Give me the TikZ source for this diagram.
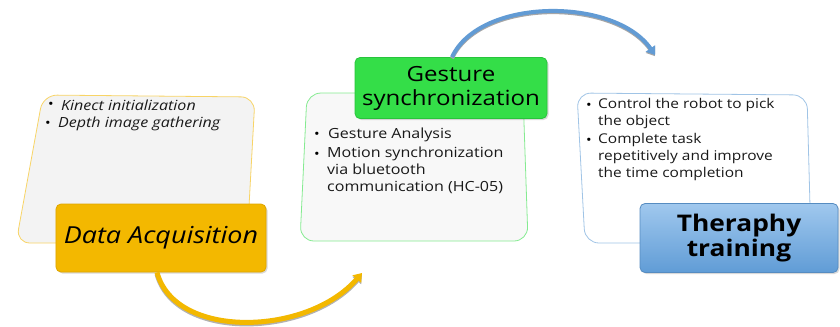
\documentclass[tikz,border=0pt]{standalone}
\usepackage{fontspec}
\setmainfont[FakeStretch=1.15]{Open Sans}
\usetikzlibrary{arrows.meta,shadows}
\definecolor{acqgold}{RGB}{243,184,0}
\definecolor{acqedge}{RGB}{222,165,0}
\definecolor{gestgreen}{RGB}{52,222,72}
\definecolor{gestedge}{RGB}{40,196,60}
\definecolor{therblue}{RGB}{96,156,214}
\definecolor{therlight}{RGB}{160,200,238}
\definecolor{panelgrey}{RGB}{243,243,243}
\definecolor{arcblue}{RGB}{98,155,212}
\begin{document}
\begin{tikzpicture}[x=1bp, y=-1bp,
  panel/.style={rounded corners=14bp, line width=0.8bp},
  head node/.style={draw, rounded corners=5bp, line width=0.8bp, inner sep=0pt, align=center,
    drop shadow={opacity=0.3, shadow xshift=1.5bp, shadow yshift=-1.5bp}},
  dot node/.style={anchor=west, inner sep=0pt, font=\fontsize{13}{16}\selectfont},
  item node/.style={inner sep=0pt, align=left, text=black!90},
  flow arrow/.style={line width=#1, -{Triangle[length=8bp, width=11bp]}}]
\useasboundingbox (0,0) rectangle (840,326);

% background panels
\draw[panel, fill=panelgrey, draw=acqgold!60] (43,95) -- (255,97) -- (247,243) -- (16,243) -- cycle;
\draw[panel, fill=panelgrey!60, draw=gestgreen!60] (307,93) -- (523,93) -- (528,241) -- (300,241) -- cycle;
\draw[panel, fill=white, draw=therblue!60] (577,93) -- (807,95) -- (811,243) -- (585,243) -- cycle;

% bullet items
\begin{scope}[every node/.style={font=\fontsize{14}{17}\selectfont}]
\node [dot node](b1) at (48,105) {\textbullet};
\node [item node, anchor=west](t1) at (61,105) {\itshape Kinect initialization};
\node [dot node](b2) at (45,124) {\textbullet};
\node [item node, anchor=west](t2) at (58,124) {\itshape Depth image gathering};
\end{scope}

\begin{scope}[every node/.style={font=\fontsize{14}{17}\selectfont}]
\node [dot node](b3) at (314,135) {\textbullet};
\node [item node, anchor=west](t3) at (328,135) {Gesture Analysis};
\node [dot node](b4) at (314,155) {\textbullet};
\node [item node, anchor=north west](t4) at (327,147) {Motion synchronization\\via bluetooth\\communication (HC-05)};
\end{scope}

\begin{scope}[every node/.style={font=\fontsize{13.5}{17}\selectfont}]
\node [dot node](b5) at (586,106) {\textbullet};
\node [item node, anchor=north west](t5) at (598,98) {Control the robot to pick\\the object};
\node [dot node](b6) at (586,141) {\textbullet};
\node [item node, anchor=north west](t6) at (598,133) {Complete task\\repetitively and improve\\the time completion};
\end{scope}

% stage headers
\node [head node, fill=acqgold, draw=acqedge, minimum width=210bp, minimum height=68bp,
  font=\itshape\fontsize{23.5}{28}\selectfont](acq) at (161,238) {Data Acquisition};
\node [head node, fill=gestgreen, draw=gestedge, minimum width=192bp, minimum height=61bp,
  font=\fontsize{21}{24}\selectfont](gest) at (451,88) {Gesture\\synchronization};
\node [head node, top color=therlight, bottom color=therblue, draw=therblue!90!black, minimum width=198bp, minimum height=69bp,
  font=\bfseries\fontsize{23}{26}\selectfont](ther) at (739,238) {Theraphy\\training};

% connectors
\coordinate (acqend) at (362,273);
\coordinate (gestend) at (655,55);
\draw [flow arrow=5bp, acqgold, preaction={draw=black!30, line width=5bp, transform canvas={yshift=-1.5bp}}]
  ([xshift=-4bp]acq.south) .. controls (175,340) and (308,336) .. (acqend);
\draw [flow arrow=4bp, arcblue, preaction={draw=black!35, line width=4bp, transform canvas={yshift=-1.2bp}}]
  ([xshift=1bp]gest.north) .. controls (480,-3) and (615,-3) .. (gestend);
\end{tikzpicture}
\end{document}
